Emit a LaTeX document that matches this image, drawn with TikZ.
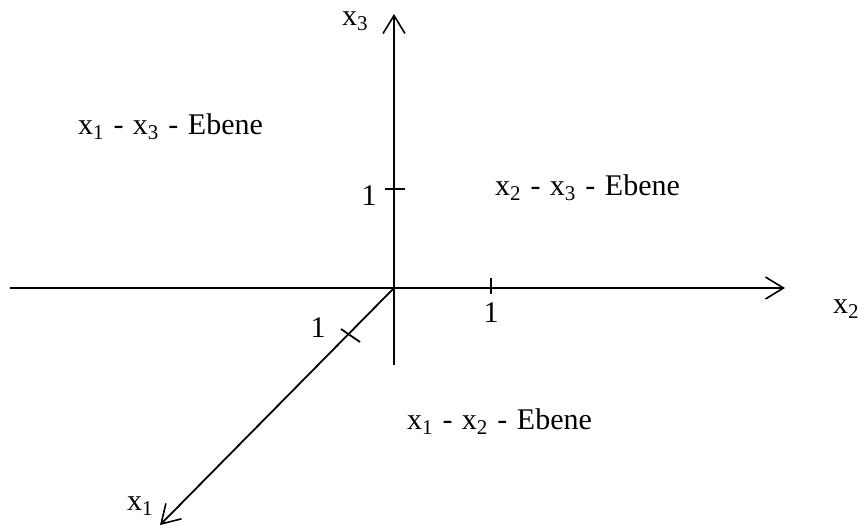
\documentclass[tikz,border=0pt]{standalone}
\usepackage{fontspec}
\setmainfont{Liberation Serif}
\usetikzlibrary{arrows.meta}
\newcommand\widespacing{\spaceskip 9.5pt\relax}
\tikzset{
  axis/.style={line width=1.8pt, -{Straight Barb[length=18pt,width=22pt,line width=1.6pt]}},
  tickmark/.style={line width=1.8pt},
  lbl/.style={inner sep=0pt, outer sep=0pt, font={\fontsize{30}{36}\selectfont}},
  plane/.style={lbl, anchor=base west, font={\fontsize{30}{36}\selectfont\widespacing}}
}
\begin{document}
\begin{tikzpicture}[x=1pt,y=-1pt]
\useasboundingbox (0,0) rectangle (864,528);
% axis points
\coordinate (O) at (394,288);
\coordinate (X2L) at (10,288);
\coordinate (X2R) at (785,288);
\coordinate (X3T) at (394,14);
\coordinate (X3B) at (394,365);
\coordinate (X1T) at (160,525);
% ticks
\coordinate (t2a) at (491,278);
\coordinate (t2b) at (491,294);
\coordinate (t3a) at (385,189);
\coordinate (t3b) at (405,189);
\coordinate (t1a) at (341,329);
\coordinate (t1b) at (360,342);
% axes
\draw[axis] (X2L) -- (X2R);
\draw[axis] (X3B) -- (X3T);
\draw[axis] (O) -- (X1T);
\draw[tickmark] (t2a) -- (t2b);
\draw[tickmark] (t3a) -- (t3b);
\draw[tickmark] (t1a) -- (t1b);
% axis labels
\node[lbl, anchor=base west] (lx3) at (342,25) {x\textsubscript{3}};
\node[lbl, anchor=base west] (lx2) at (833,313) {x\textsubscript{2}};
\node[lbl, anchor=base west] (lx1) at (127,510) {x\textsubscript{1}};
% unit labels
\node[lbl, anchor=base] (u3) at (369,205) {1};
\node[lbl, anchor=base] (u2) at (491,322) {1};
\node[lbl, anchor=base] (u1) at (318,337) {1};
% plane labels
\node[plane] (p13) at (78,134) {x\textsubscript{1} - x\textsubscript{3} - Ebene};
\node[plane] (p23) at (495,195) {x\textsubscript{2} - x\textsubscript{3} - Ebene};
\node[plane] (p12) at (407,429) {x\textsubscript{1} - x\textsubscript{2} - Ebene};
\end{tikzpicture}
\end{document}
